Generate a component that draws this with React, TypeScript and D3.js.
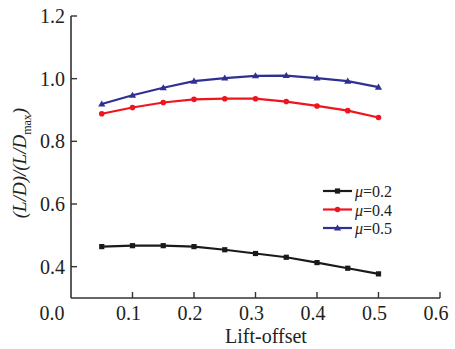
import React from "react";
import * as d3 from "d3";

const xValues = [0.05, 0.1, 0.15, 0.2, 0.25, 0.3, 0.35, 0.4, 0.45, 0.5];
const mu02 = [0.464, 0.467, 0.467, 0.464, 0.454, 0.442, 0.43, 0.413, 0.395, 0.377];
const mu04 = [0.888, 0.908, 0.924, 0.934, 0.936, 0.936, 0.927, 0.913, 0.898, 0.876];
const mu05 = [0.919, 0.947, 0.971, 0.992, 1.002, 1.009, 1.01, 1.002, 0.992, 0.973];
const xTicks = [0.0, 0.1, 0.2, 0.3, 0.4, 0.5, 0.6];
const yTicks = [0.4, 0.6, 0.8, 1.0, 1.2];
const seriesNames = ["\u03bc=0.2", "\u03bc=0.4", "\u03bc=0.5"];

const W = 455;
const H = 349;
const FONT = "'Liberation Serif', 'Times New Roman', serif";

export default function App() {
  const x = d3.scaleLinear().domain([0, 0.6]).range([71, 440]);
  const y = d3.scaleLinear().domain([0.3, 1.2]).range([298, 16]);
  const line = (vals: number[]) =>
    d3
      .line<number>()
      .x((_, i) => x(xValues[i]))
      .y((v) => y(v))(vals) || "";

  const series = [
    { vals: mu02, color: "#1a1a1a", marker: "square" },
    { vals: mu04, color: "#f0141e", marker: "circle" },
    { vals: mu05, color: "#2e3192", marker: "triangle" },
  ];

  const drawMarker = (m: string, cx: number, cy: number, color: string, key: string) => {
    if (m === "square")
      return <rect key={key} x={cx - 2.6} y={cy - 2.6} width={5.2} height={5.2} fill={color} />;
    if (m === "circle") return <circle key={key} cx={cx} cy={cy} r={2.8} fill={color} />;
    const s = 3.6;
    return (
      <path
        key={key}
        d={`M${cx},${cy - s} L${cx + s},${cy + s * 0.7} L${cx - s},${cy + s * 0.7} Z`}
        fill={color}
      />
    );
  };

  const axisColor = "#333";
  const legendX0 = 323;
  const legendX1 = 352;
  const legendY = [191, 209.5, 228];

  return (
    <div style={{ position: "absolute", left: 0, top: 0 }}>
      <svg width={W} height={H} style={{ display: "block", background: "#fff" }}>
        {/* axes */}
        <line x1={x(0)} y1={y(0.3)} x2={x(0.6)} y2={y(0.3)} stroke={axisColor} strokeWidth={1.6} />
        <line x1={x(0)} y1={y(0.3)} x2={x(0)} y2={y(1.2)} stroke={axisColor} strokeWidth={1.6} />
        {xTicks.map((t) => (
          <g key={"xt" + t}>
            {t > 0 && (
              <line x1={x(t)} x2={x(t)} y1={y(0.3)} y2={y(0.3) - 6} stroke={axisColor} strokeWidth={1.4} />
            )}
            <text
              x={t === 0 ? 52 : x(t) - 4}
              y={320}
              textAnchor="middle"
              fontFamily={FONT}
              fontSize={20}
              fill="#222"
            >
              {t.toFixed(1)}
            </text>
          </g>
        ))}
        {yTicks.map((t) => (
          <g key={"yt" + t}>
            <line x1={x(0)} x2={x(0) + 6} y1={y(t)} y2={y(t)} stroke={axisColor} strokeWidth={1.4} />
            <text
              x={65}
              y={y(t) + 7}
              textAnchor="end"
              fontFamily={FONT}
              fontSize={20}
              fill="#222"
            >
              {t.toFixed(1)}
            </text>
          </g>
        ))}
        {/* axis titles */}
        <text x={266} y={343} textAnchor="middle" fontFamily={FONT} fontSize={20} fill="#222">
          Lift-offset
        </text>
        <text
          transform="translate(26,163) rotate(-90)"
          textAnchor="middle"
          fontFamily={FONT}
          fontSize={19}
          fill="#222"
        >
          <tspan fontStyle="italic">(L/D)/(L/D</tspan>
          <tspan fontSize={12} dy={5}>max</tspan>
          <tspan fontStyle="italic" dy={-5}>)</tspan>
        </text>
        {/* series */}
        {series.map((s, si) => (
          <g key={"s" + si}>
            <path d={line(s.vals)} fill="none" stroke={s.color} strokeWidth={2.2} />
            {s.vals.map((v, i) => drawMarker(s.marker, x(xValues[i]), y(v), s.color, `m${si}-${i}`))}
          </g>
        ))}
        {/* legend */}
        {series.map((s, si) => (
          <g key={"l" + si}>
            <line
              x1={legendX0}
              x2={legendX1}
              y1={legendY[si]}
              y2={legendY[si]}
              stroke={s.color}
              strokeWidth={2.2}
            />
            {drawMarker(s.marker, (legendX0 + legendX1) / 2, legendY[si], s.color, "lm" + si)}
            <text x={355} y={legendY[si] + 6} fontFamily={FONT} fontSize={16} fill="#222">
              <tspan fontStyle="italic">{"\u03bc"}</tspan>
              {seriesNames[si].slice(1)}
            </text>
          </g>
        ))}
      </svg>
    </div>
  );
}
